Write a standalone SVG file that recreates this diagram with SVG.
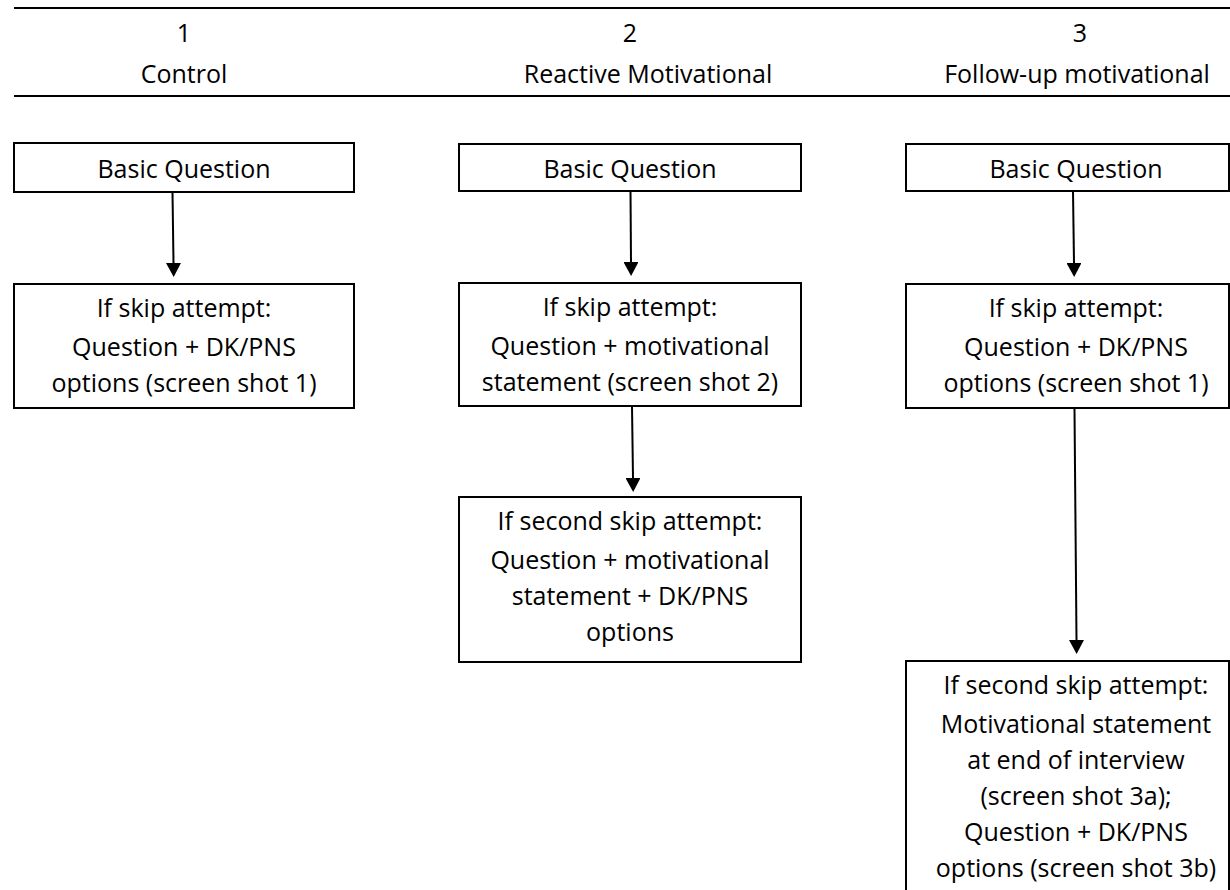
<svg xmlns="http://www.w3.org/2000/svg" width="1230" height="890" viewBox="0 0 1230 890">
<defs>
<style>
.t{font-family:"Open Sans","Liberation Sans",sans-serif;font-size:25px;fill:#000;text-anchor:middle}
.box{fill:#fff;stroke:#000;stroke-width:2}
.rule{stroke:#000;stroke-width:2}
.conn{stroke:#000;stroke-width:2;fill:none}
</style>
<marker id="ah" viewBox="0 0 14 15" refX="0" refY="7.5" markerWidth="14" markerHeight="15" markerUnits="userSpaceOnUse" orient="auto">
<path d="M0,0 L14,7.5 L0,15 z" fill="#000"/>
</marker>
</defs>
<rect width="1230" height="890" fill="#fff"/>
<g id="header">
<line class="rule" x1="14" y1="8" x2="1230" y2="8"/>
<line class="rule" x1="14" y1="96" x2="1230" y2="96"/>
<text class="t" x="184" y="42">1</text>
<text class="t" x="184" y="83">Control</text>
<text class="t" x="630" y="42">2</text>
<text class="t" x="648" y="83">Reactive Motivational</text>
<text class="t" x="1080" y="42">3</text>
<text class="t" x="1077" y="83">Follow-up motivational</text>
</g>
<g id="connectors">
<path class="conn" d="M172.5,192 L173.5,263" marker-end="url(#ah)"/>
<path class="conn" d="M630.5,191 L631,262" marker-end="url(#ah)"/>
<path class="conn" d="M632,406 L633,478" marker-end="url(#ah)"/>
<path class="conn" d="M1073,191 L1074,263" marker-end="url(#ah)"/>
<path class="conn" d="M1074.5,409 L1076.5,640" marker-end="url(#ah)"/>
</g>
<g id="c1-basic">
<rect class="box" x="14" y="143" width="340" height="49"/>
<text class="t" x="184" y="178">Basic Question</text>
</g>
<g id="c1-skip">
<rect class="box" x="14" y="284" width="340" height="124"/>
<text class="t" x="184" y="317">If skip attempt:</text>
<text class="t" x="184" y="356">Question + DK/PNS</text>
<text class="t" x="184" y="392">options (screen shot 1)</text>
</g>
<g id="c2-basic">
<rect class="box" x="459" y="144" width="342" height="47"/>
<text class="t" x="630" y="178">Basic Question</text>
</g>
<g id="c2-skip">
<rect class="box" x="459" y="283" width="342" height="123"/>
<text class="t" x="630" y="316">If skip attempt:</text>
<text class="t" x="630" y="355">Question + motivational</text>
<text class="t" x="630" y="391">statement (screen shot 2)</text>
</g>
<g id="c2-second">
<rect class="box" x="459" y="497" width="342" height="165"/>
<text class="t" x="630" y="530">If second skip attempt:</text>
<text class="t" x="630" y="569">Question + motivational</text>
<text class="t" x="630" y="605">statement + DK/PNS</text>
<text class="t" x="630" y="641">options</text>
</g>
<g id="c3-basic">
<rect class="box" x="906" y="144" width="323" height="47"/>
<text class="t" x="1076" y="178">Basic Question</text>
</g>
<g id="c3-skip">
<rect class="box" x="906" y="284" width="323" height="124"/>
<text class="t" x="1076" y="317">If skip attempt:</text>
<text class="t" x="1076" y="356">Question + DK/PNS</text>
<text class="t" x="1076" y="392">options (screen shot 1)</text>
</g>
<g id="c3-second">
<rect class="box" x="906" y="661" width="323" height="240"/>
<text class="t" x="1076" y="694">If second skip attempt:</text>
<text class="t" x="1076" y="733">Motivational statement</text>
<text class="t" x="1076" y="769">at end of interview</text>
<text class="t" x="1076" y="805">(screen shot 3a);</text>
<text class="t" x="1076" y="841">Question + DK/PNS</text>
<text class="t" x="1076" y="877">options (screen shot 3b)</text>
</g>
</svg>
